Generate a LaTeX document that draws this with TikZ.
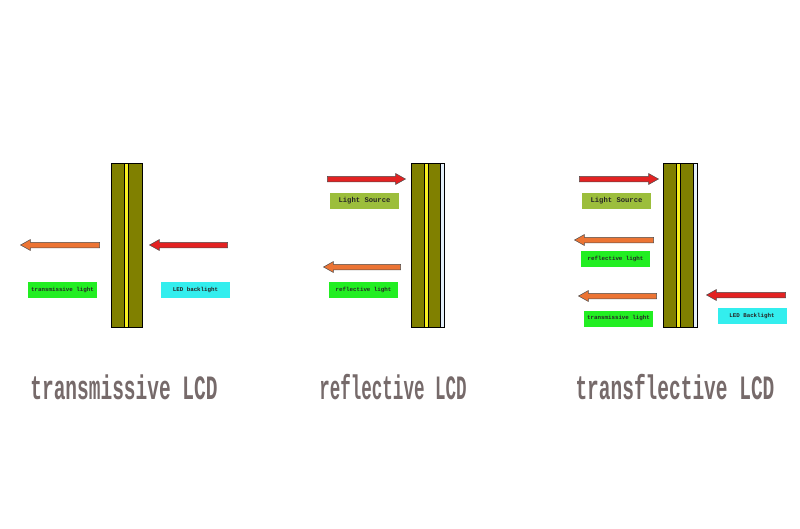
\documentclass[tikz,border=0pt]{standalone}
\usepackage{fontspec}
\setmonofont{Liberation Mono}
\usetikzlibrary{shapes.arrows}

\definecolor{paneolive}{HTML}{808000}
\definecolor{stripeyellow}{HTML}{F8F020}
\definecolor{glassblue}{HTML}{E4F0FA}
\definecolor{sourcered}{HTML}{E32222}
\definecolor{lightorange}{HTML}{EC7434}
\definecolor{labelgreen}{HTML}{22EE22}
\definecolor{labelcyan}{HTML}{33EEEE}
\definecolor{sourcegreen}{HTML}{9CBE3C}
\definecolor{titlegray}{HTML}{766A6A}

\tikzset{
    beam/.style={single arrow, draw=black!70, line width=0.5pt, minimum height=#1,
        minimum width=10.5pt, single arrow head extend=2.75pt, single arrow tip angle=58,
        inner sep=2.5pt},
    tag/.style={inner sep=0pt, minimum width=69pt, minimum height=16pt, text=black!85,
        font=\ttfamily\bfseries\fontsize{5.8}{7}\selectfont},
    bigtag/.style={tag, font=\ttfamily\bfseries\fontsize{7.2}{8}\selectfont},
    heading/.style={inner sep=0pt, text=titlegray, font=\ttfamily\bfseries\fontsize{19.5}{20}\selectfont}
}

\newcommand{\paneltitle}[2][1]{\scalebox{#1}[1.75]{#2}}

\begin{document}
\begin{tikzpicture}[x=1pt, y=-1pt]
    \useasboundingbox (0,0) rectangle (800,528);

    % Transmissive panel
    \draw[fill=paneolive] (111,163) rectangle (124,327);
    \draw[fill=stripeyellow] (124,163) rectangle (128,327);
    \draw[fill=paneolive] (128,163) rectangle (142,327);

    \node[beam=79pt, fill=lightorange, shape border rotate=180] (outA) at (62.5,245) {};
    \node[beam=78pt, fill=sourcered, shape border rotate=180] (backA) at (191,245) {};
    \node[tag, fill=labelgreen] (transA) at (62.5,290) {transmissive light};
    \node[tag, fill=labelcyan] (ledA) at (195.5,290) {LED backlight};

    % Reflective panel
    \draw[fill=paneolive] (411,163) rectangle (424,327);
    \draw[fill=stripeyellow] (424,163) rectangle (428.5,327);
    \draw[fill=paneolive] (428.5,163) rectangle (440,327);
    \draw[fill=glassblue] (440,163) rectangle (444,327);

    \node[beam=78pt, fill=sourcered] (srcB) at (364,179) {};
    \node[beam=77pt, fill=lightorange, shape border rotate=180] (reflB) at (364.5,267) {};
    \node[bigtag, fill=sourcegreen] (lightB) at (364.5,201) {Light Source};
    \node[tag, fill=labelgreen] (reflectB) at (363.5,289.5) {reflective light};

    % Transflective panel
    \draw[fill=paneolive] (663,163) rectangle (676.5,327);
    \draw[fill=stripeyellow] (676.5,163) rectangle (680.5,327);
    \draw[fill=paneolive] (680.5,163) rectangle (693,327);
    \draw[fill=glassblue] (693,163) rectangle (697,327);

    \node[beam=79pt, fill=sourcered] (srcC) at (616.5,179) {};
    \node[beam=79pt, fill=lightorange, shape border rotate=180] (reflC) at (616.5,240) {};
    \node[beam=78pt, fill=lightorange, shape border rotate=180] (outC) at (620,296) {};
    \node[beam=79pt, fill=sourcered, shape border rotate=180] (backC) at (748.5,295) {};
    \node[bigtag, fill=sourcegreen] (lightC) at (616.5,201) {Light Source};
    \node[tag, fill=labelgreen] (reflectC) at (615.5,258.5) {reflective light};
    \node[tag, fill=labelgreen] (transC) at (618.5,318.5) {transmissive light};
    \node[tag, fill=labelcyan] (ledC) at (752,316) {LED Backlight};

    % Titles
    \node[heading] (titleA) at (124,387) {\paneltitle{transmissive LCD}};
    \node[heading] (titleB) at (393,387) {\paneltitle[0.9]{reflective LCD}};
    \node[heading] (titleC) at (675,387) {\paneltitle{transflective LCD}};

\end{tikzpicture}
\end{document}
